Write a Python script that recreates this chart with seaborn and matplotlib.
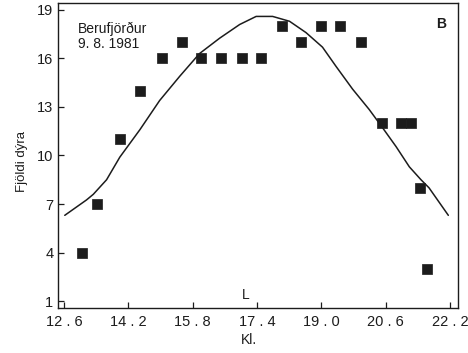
import matplotlib
matplotlib.use("Agg")
import matplotlib.pyplot as plt
import seaborn as sns
import pandas as pd

# Observed counts per sampling time
obs_time = [13.06, 13.43, 14.00, 14.49, 15.04, 15.54, 16.02, 16.51, 17.02, 17.50,
            18.03, 18.50, 19.00, 19.47, 19.99, 20.50, 20.98, 21.23, 21.46, 21.62]
obs_count = [4, 7, 11, 14, 16, 17, 16, 16, 16, 16,
             18, 17, 18, 18, 17, 12, 12, 12, 8, 3]

# Fitted curve
fit_time = [12.62, 13.16, 13.33, 13.66, 13.99, 14.49, 14.98, 15.48, 15.97, 16.47,
            16.97, 17.38, 17.79, 18.21, 18.62, 19.03, 19.37, 19.78, 20.19, 20.50,
            20.86, 21.19, 21.48, 21.68, 22.16]
fit_count = [6.3, 7.25, 7.6, 8.5, 9.9, 11.6, 13.4, 14.9, 16.3, 17.25,
             18.1, 18.6, 18.6, 18.3, 17.6, 16.7, 15.5, 14.1, 12.85, 11.8,
             10.55, 9.3, 8.5, 8.0, 6.3]

x_ticks = [12.6, 14.2, 15.8, 17.4, 19.0, 20.6, 22.2]
y_ticks = [1, 4, 7, 10, 13, 16, 19]

obs = pd.DataFrame({"Kl": obs_time, "n": obs_count})
fit = pd.DataFrame({"Kl": fit_time, "n": fit_count})

sns.set_theme(style="white")
plt.rcParams["font.family"] = ["Liberation Sans", "DejaVu Sans"]

fig = plt.figure(figsize=(4.68, 3.53), dpi=100)
ax = fig.add_axes([0.1229, 0.1275, 0.8557, 0.864])

ink = "#1c1c1c"
sns.lineplot(data=fit, x="Kl", y="n", ax=ax, color=ink, lw=1.1,
             sort=False, estimator=None)
sns.scatterplot(data=obs, x="Kl", y="n", ax=ax, marker="s", s=46,
                color=ink, edgecolor=ink, linewidth=0.5, zorder=3)

ax.set_xlim(12.44, 22.4)
ax.set_ylim(0.57, 19.43)
ax.set_xticks(x_ticks)
ax.set_xticklabels([f"{v:.1f}".replace(".", " . ") for v in x_ticks],
                   fontsize=10.5)
ax.set_yticks(y_ticks)
ax.set_yticklabels([str(v) for v in y_ticks], fontsize=10.5)
ax.tick_params(axis="both", which="major", direction="in", length=4,
               width=0.9, color=ink, labelcolor=ink,
               bottom=True, left=True, top=False, right=False)
ax.tick_params(axis="x", pad=5)
ax.tick_params(axis="y", pad=3)

for sp in ax.spines.values():
    sp.set_visible(True)
    sp.set_color(ink)
    sp.set_linewidth(1.0)

ax.set_xlabel("Kl.", fontsize=10, color=ink)
ax.xaxis.set_label_coords(0.479, -0.083)
ax.set_ylabel("Fjöldi dýra", fontsize=9.5, color=ink)
ax.yaxis.set_label_coords(-0.074, 0.479)

ax.text(0.051, 0.94, "Berufjörður\n9. 8. 1981", transform=ax.transAxes,
        ha="left", va="top", fontsize=10, color=ink, linespacing=1.1)
ax.text(21.98, 18.13, "B", ha="center", va="center", fontsize=10,
        fontweight="bold", color=ink)
ax.text(17.13, 1.35, "L", ha="center", va="center", fontsize=10, color=ink)

fig.savefig("out.png", dpi=100)
